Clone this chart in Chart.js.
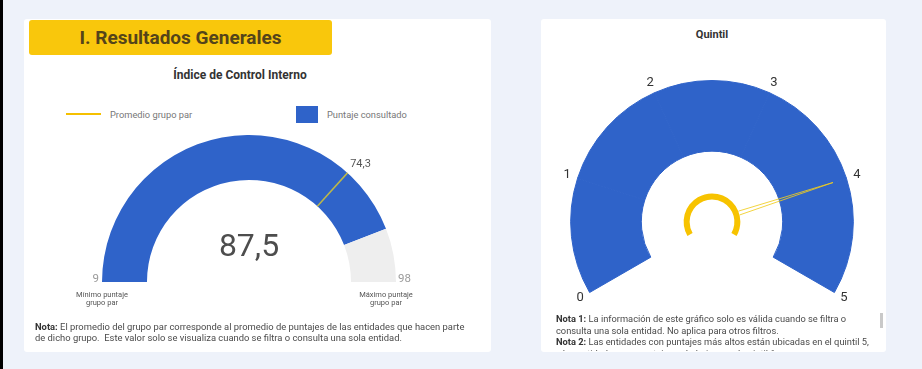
<!DOCTYPE html>
<html lang="es">
<head>
<meta charset="utf-8">
<title>Resultados Generales</title>
<script src="https://cdn.jsdelivr.net/npm/chart.js@4.4.1/dist/chart.umd.min.js"></script>
<style>
  html, body { margin: 0; padding: 0; }
  body {
    width: 922px; height: 369px; position: relative; overflow: hidden;
    background: #eef2fa;
    font-family: Roboto, "Noto Sans", sans-serif;
  }
  .edge { position: absolute; left: 0; top: 0; width: 3px; height: 369px; background: #000; }
  .card { position: absolute; background: #fff; border-radius: 3px; }
  .abs { position: absolute; white-space: nowrap; }
  .header {
    left: 29px; top: 20px; width: 303px; height: 35px; line-height: 35px;
    background: #f9c70c; border-radius: 3px; text-align: center;
    font-weight: 700; font-size: 19px; color: #54441a;
  }
  .title { font-weight: 700; font-size: 12px; color: #333; text-align: center; }
  .legend { font-size: 9.3px; color: #777; }
  .small { font-size: 7.5px; color: #555; text-align: center; line-height: 8px; }
  .note { color: #4a4a4a; line-height: 11px; }
  .note b { color: #333; }
  canvas { position: absolute; }
</style>
</head>
<body>
<div class="edge"></div>
<div class="card" style="left:24px; top:19px; width:467px; height:333px;"></div>
<div class="card" style="left:541px; top:19px; width:345px; height:333px;"></div>

<div class="abs header">I. Resultados Generales</div>
<div class="abs title" style="left:140px; top:68px; width:200px;">Índice de Control Interno</div>

<div class="abs" style="left:66px; top:113px; width:35px; height:2px; background:#f5c000;"></div>
<div class="abs legend" style="left:110px; top:109px;">Promedio grupo par</div>
<div class="abs" style="left:296px; top:106px; width:22px; height:17px; background:#2f63c9;"></div>
<div class="abs legend" style="left:327px; top:109px;">Puntaje consultado</div>

<canvas id="indice" width="380" height="200" style="left:60px; top:120px;"></canvas>

<div class="abs small" style="left:62px; top:291px; width:80px;">Mínimo puntaje<br>grupo par</div>
<div class="abs small" style="left:346px; top:291px; width:80px;">Máximo puntaje<br>grupo par</div>

<div class="abs note" style="left:35px; top:321px; font-size:9.4px;"><b>Nota:</b> El promedio del grupo par corresponde al promedio de puntajes de las entidades que hacen parte<br>de dicho grupo.&nbsp; Este valor solo se visualiza cuando se filtra o consulta una sola entidad.</div>

<div class="abs title" style="left:662px; top:28px; width:100px; font-size:11px;">Quintil</div>
<canvas id="quintil" width="335" height="270" style="left:545px; top:45px;"></canvas>

<div class="abs note" style="left:556px; top:313px; height:38px; overflow:hidden; font-size:9.3px; line-height:11.5px;"><b>Nota 1:</b> La información de este gráfico solo es válida cuando se filtra o<br>consulta una sola entidad. No aplica para otros filtros.<br><b>Nota 2:</b> Las entidades con puntajes más altos están ubicadas en el quintil 5,<br>y las entidades con puntajes más bajos en el quintil 1.</div>
<div class="abs" style="left:880px; top:313px; width:3px; height:15px; background:#c9c9c9;"></div>

<script>
// Índice de Control Interno
const scoreMin = 9;
const scoreMax = 98;
const scoreValue = 87.5;
const peerAverage = 74.3;

// Quintil gauge
const quintilSegments = [1, 1, 1, 1, 1];
const quintilTicks = [0, 1, 2, 3, 4, 5];
const quintilValue = 4;

const BLUE = '#2f63c9';
const YELLOW = '#f7c300';
const fmt = v => String(v).replace('.', ',');

const baseOptions = {
  responsive: false,
  animation: false,
  events: [],
  plugins: { legend: { display: false }, tooltip: { enabled: false } }
};

const indiceOverlay = {
  id: 'indiceOverlay',
  afterDatasetsDraw(chart) {
    const ctx = chart.ctx;
    const arcs = chart.getDatasetMeta(0).data;
    const { x, y, innerRadius, outerRadius, startAngle } = arcs[0];
    const total = arcs[arcs.length - 1].endAngle - startAngle;
    const angleOf = v => startAngle + (v - scoreMin) / (scoreMax - scoreMin) * total;

    // peer-group average marker across the band
    const a = angleOf(peerAverage);
    ctx.save();
    ctx.strokeStyle = 'rgba(225, 205, 40, 0.8)';
    ctx.lineWidth = 1.5;
    ctx.beginPath();
    ctx.moveTo(x + Math.cos(a) * innerRadius, y + Math.sin(a) * innerRadius);
    ctx.lineTo(x + Math.cos(a) * outerRadius, y + Math.sin(a) * outerRadius);
    ctx.stroke();

    ctx.fillStyle = '#555';
    ctx.font = '11px Roboto';
    ctx.textAlign = 'left';
    ctx.textBaseline = 'bottom';
    ctx.fillText(fmt(peerAverage), x + Math.cos(a) * (outerRadius + 4), y + Math.sin(a) * (outerRadius + 4));

    // range ends
    ctx.fillStyle = '#9a9a9a';
    ctx.font = '11.5px Roboto';
    ctx.textBaseline = 'alphabetic';
    ctx.textAlign = 'right';
    ctx.fillText(fmt(scoreMin), x - outerRadius - 3, y);
    ctx.textAlign = 'left';
    ctx.fillText(fmt(scoreMax), x + outerRadius + 2, y);

    // consulted score in the middle
    ctx.fillStyle = '#4d4d4d';
    ctx.font = '32px Roboto';
    ctx.textAlign = 'center';
    ctx.textBaseline = 'middle';
    ctx.fillText(fmt(scoreValue), x, y - 34);
    ctx.restore();
  }
};

new Chart(document.getElementById('indice'), {
  type: 'doughnut',
  data: {
    labels: ['Puntaje consultado', 'Restante'],
    datasets: [{
      data: [scoreValue - scoreMin, scoreMax - scoreValue],
      backgroundColor: [BLUE, '#eeeeee'],
      borderWidth: 0,
      clip: false
    }]
  },
  options: Object.assign({}, baseOptions, {
    rotation: -90,
    circumference: 180,
    cutout: '69.4%',
    layout: { padding: { left: 42, right: 44, top: 15, bottom: 38 } }
  }),
  plugins: [indiceOverlay]
});

const quintilOverlay = {
  id: 'quintilOverlay',
  afterDatasetsDraw(chart) {
    const ctx = chart.ctx;
    const ring = chart.getDatasetMeta(0).data;
    const hub = chart.getDatasetMeta(2).data[0];
    const { x, y, outerRadius, startAngle } = ring[0];
    const total = ring[ring.length - 1].endAngle - startAngle;
    const maxTick = quintilTicks[quintilTicks.length - 1];
    const angleOf = v => startAngle + v / maxTick * total;

    ctx.save();
    ctx.fillStyle = '#333';
    ctx.font = '13px Roboto';
    ctx.textAlign = 'center';
    ctx.textBaseline = 'middle';
    quintilTicks.forEach(t => {
      const a = angleOf(t);
      ctx.fillText(String(t), x + Math.cos(a) * (outerRadius + 11), y + Math.sin(a) * (outerRadius + 11));
    });

    // needle from the hub ring outwards
    const a = angleOf(quintilValue);
    const r0 = hub.outerRadius;
    const r1 = outerRadius * 0.9;
    const nx = -Math.sin(a), ny = Math.cos(a);
    const bx = x + Math.cos(a) * r0, by = y + Math.sin(a) * r0;
    ctx.strokeStyle = 'rgba(240, 205, 30, 0.85)';
    ctx.lineWidth = 1;
    ctx.beginPath();
    ctx.moveTo(bx + nx * 2, by + ny * 2);
    ctx.lineTo(x + Math.cos(a) * r1, y + Math.sin(a) * r1);
    ctx.lineTo(bx - nx * 2, by - ny * 2);
    ctx.stroke();
    ctx.restore();
  }
};

new Chart(document.getElementById('quintil'), {
  type: 'doughnut',
  data: {
    labels: ['1', '2', '3', '4', '5'],
    datasets: [
      { data: quintilSegments, backgroundColor: BLUE, borderColor: BLUE, borderWidth: 1, weight: 71, clip: false },
      { data: [quintilTicks.length - 1], backgroundColor: 'rgba(0,0,0,0)', borderWidth: 0, weight: 42.5, clip: false },
      { data: [quintilTicks.length - 1], backgroundColor: YELLOW, borderWidth: 0, weight: 6, clip: false }
    ]
  },
  options: Object.assign({}, baseOptions, {
    rotation: -120,
    circumference: 240,
    cutout: '15.85%',
    layout: { padding: { left: 25, right: 26, top: 35, bottom: 22 } }
  }),
  plugins: [quintilOverlay]
});
</script>
</body>
</html>
